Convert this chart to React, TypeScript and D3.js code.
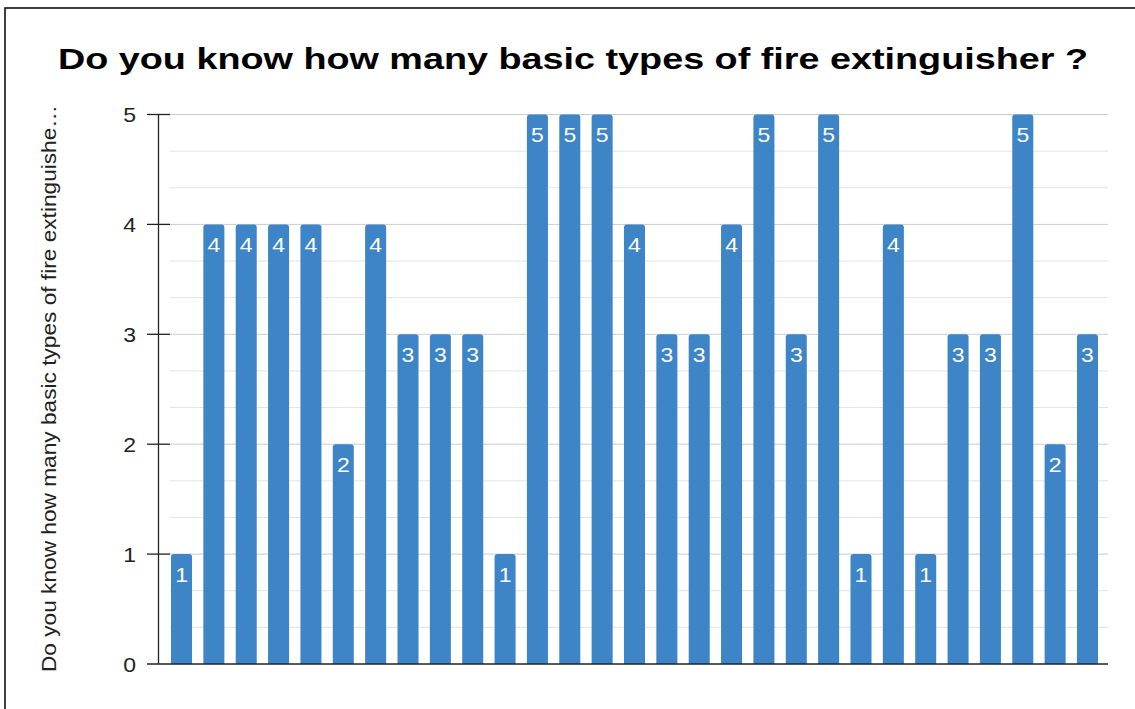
import React from "react";
import * as d3 from "d3";

const title = "Do you know how many basic types of fire extinguisher ?";
const yAxisTitle = "Do you know how many basic types of fire extinguishe\u2026";
const values = [1, 4, 4, 4, 4, 2, 4, 3, 3, 3, 1, 5, 5, 5, 4, 3, 3, 4, 5, 3, 5, 1, 4, 1, 3, 3, 5, 2, 3];
const majorTicks = [0, 1, 2, 3, 4, 5];
const minorTicks = [1 / 3, 2 / 3, 4 / 3, 5 / 3, 7 / 3, 8 / 3, 10 / 3, 11 / 3, 13 / 3, 14 / 3];

const W = 1135;
const H = 709;
const FONT = "'Liberation Sans', Arial, Helvetica, sans-serif";

function topRoundedRect(x: number, y: number, w: number, h: number, r: number) {
  const rr = Math.min(r, h, w / 2);
  const p = d3.path();
  p.moveTo(x, y + h);
  p.lineTo(x, y + rr);
  p.arcTo(x, y, x + rr, y, rr);
  p.lineTo(x + w - rr, y);
  p.arcTo(x + w, y, x + w, y + rr, rr);
  p.lineTo(x + w, y + h);
  p.closePath();
  return p.toString();
}

export default function App() {
  const x = d3
    .scaleBand<number>()
    .domain(values.map((_, i) => i))
    .range([171, 1098])
    .paddingInner(0.35)
    .paddingOuter(0);
  const y = d3.scaleLinear().domain([0, 5]).range([664, 114.5]);
  const gridX0 = 170;
  const gridX1 = 1108;

  return (
    <svg
      width={W}
      height={H}
      style={{ position: "absolute", left: 0, top: 0, display: "block", background: "#fff" }}
    >
      <rect x={5} y={8} width={W + 10} height={H + 10} fill="#fff" stroke="#111" strokeWidth={1.6} />
      <text
        x={58}
        y={69}
        textAnchor="start"
        fontFamily={FONT}
        fontWeight="bold"
        fontSize={30}
        textLength={1030}
        lengthAdjust="spacingAndGlyphs"
        fill="#000"
      >
        {title}
      </text>
      {minorTicks.map((t) => (
        <line key={"mn" + t} x1={gridX0} x2={gridX1} y1={y(t)} y2={y(t)} stroke="#e3e3e3" strokeWidth={1} />
      ))}
      {majorTicks
        .filter((t) => t > 0)
        .map((t) => (
          <line key={"mj" + t} x1={gridX0} x2={gridX1} y1={y(t)} y2={y(t)} stroke="#cccccc" strokeWidth={1} />
        ))}
      {values.map((v, i) => {
        const bx = x(i) as number;
        const bw = x.bandwidth();
        const top = y(v);
        return (
          <g key={"b" + i}>
            <path d={topRoundedRect(bx, top, bw, y(0) - top, 3)} fill="#3d85c6" />
            <text
              transform={`translate(${bx + bw / 2}, ${top + 27.5}) scale(1.15, 1)`}
              textAnchor="middle"
              fontFamily={FONT}
              fontSize={20}
              fill="#ffffff"
            >
              {v}
            </text>
          </g>
        );
      })}
      <line x1={158.5} x2={158.5} y1={y(5)} y2={y(0)} stroke="#222" strokeWidth={1.3} />
      {majorTicks.map((t) => (
        <g key={"t" + t}>
          <line x1={147} x2={t === 0 ? gridX1 : 170} y1={y(t)} y2={y(t)} stroke="#222" strokeWidth={1.3} />
          <text
            transform={`translate(136, ${y(t) + 7.5}) scale(1.15, 1)`}
            textAnchor="end"
            fontFamily={FONT}
            fontSize={20}
            fill="#222"
          >
            {t}
          </text>
        </g>
      ))}
      <text
        transform={`translate(55.5, 672) rotate(-90)`}
        textAnchor="start"
        fontFamily={FONT}
        fontSize={19.5}
        textLength={567}
        lengthAdjust="spacingAndGlyphs"
        fill="#222"
      >
        {yAxisTitle}
      </text>
    </svg>
  );
}
